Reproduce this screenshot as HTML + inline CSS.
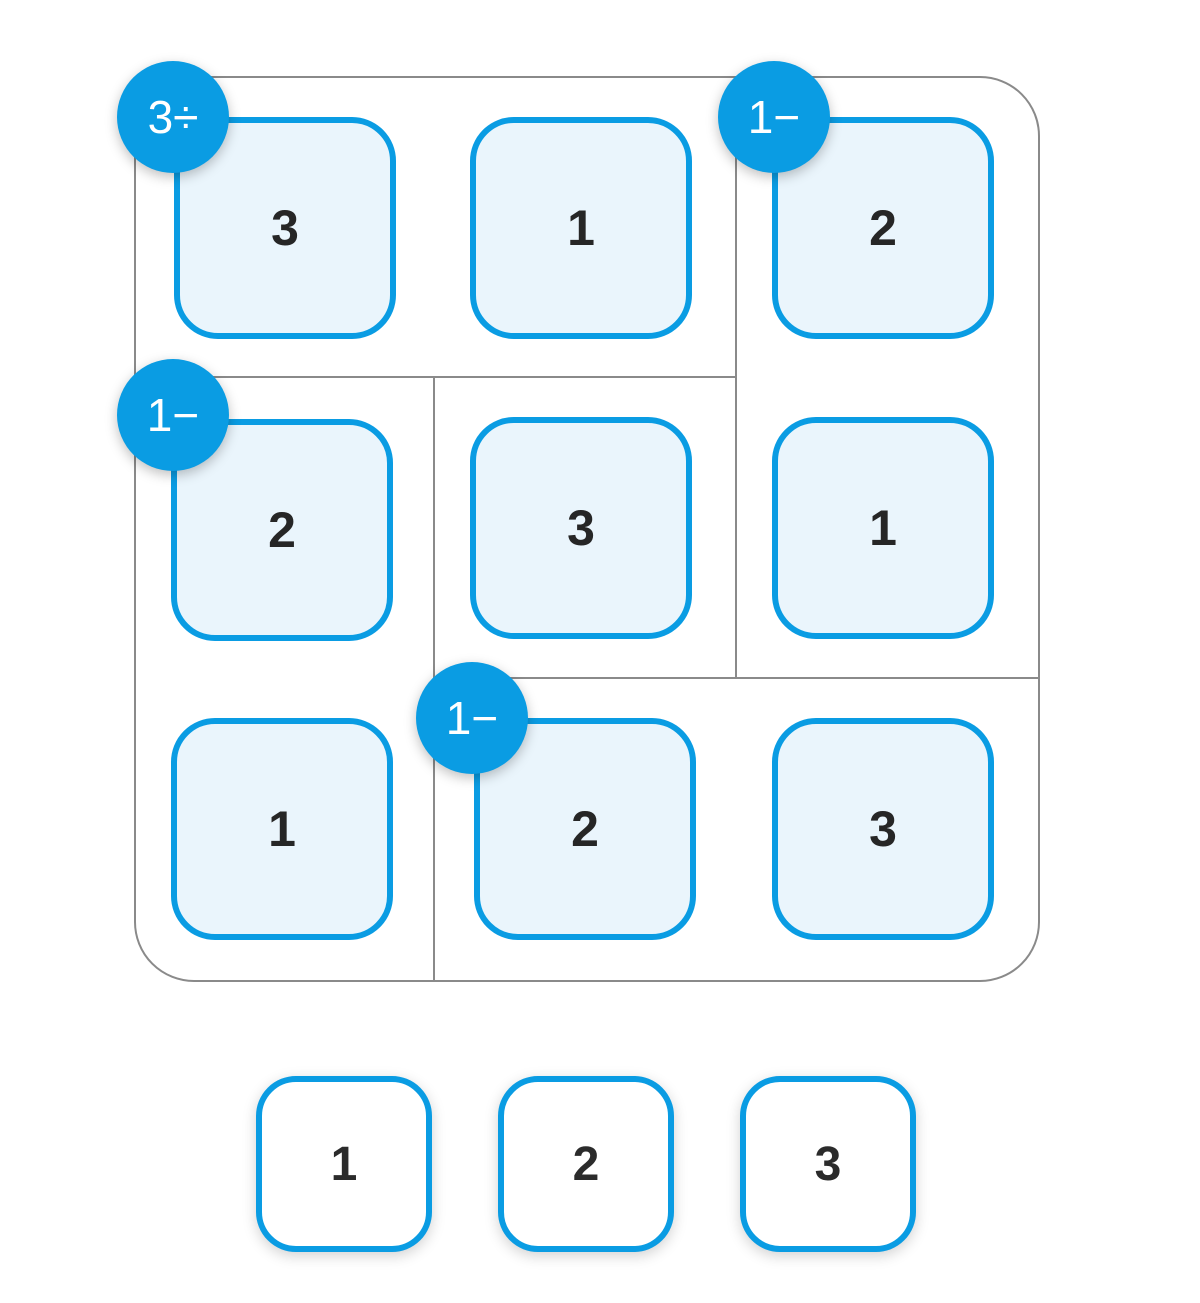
<!DOCTYPE html>
<html><head><meta charset="utf-8"><style>
html,body{margin:0;padding:0;width:1200px;height:1303px;background:#fff;overflow:hidden;font-family:"Liberation Sans",sans-serif;}
.abs{position:absolute;}
.board{left:134px;top:76px;width:902px;height:902px;border:2px solid #8a8a8a;border-radius:60px;box-sizing:content-box;}
.line{background:#8a8a8a;}
.tile{width:210px;height:210px;border:6px solid #0a9ce3;border-radius:44px;background:#eaf5fc;display:flex;align-items:center;justify-content:center;font-size:50px;font-weight:bold;color:#262626;}
.badge{width:112px;height:112px;border-radius:50%;background:#0a9ce3;color:#fff;display:flex;align-items:center;justify-content:center;font-size:46px;box-shadow:0 4px 12px rgba(0,0,0,0.25);}
.bank{width:164px;height:164px;border:6px solid #0a9ce3;border-radius:40px;background:#fff;display:flex;align-items:center;justify-content:center;font-size:48px;font-weight:bold;color:#2b2b2b;box-shadow:0 4px 14px rgba(0,0,0,0.18);}
</style></head><body>
<div class="abs board"></div>
<div class="abs line" style="left:134px;top:376px;width:602px;height:2px"></div>
<div class="abs line" style="left:735px;top:76px;width:2px;height:602px"></div>
<div class="abs line" style="left:433px;top:377px;width:2px;height:603px"></div>
<div class="abs line" style="left:434px;top:677px;width:604px;height:2px"></div>

<div class="abs tile" style="left:174px;top:117px">3</div>
<div class="abs tile" style="left:470px;top:117px">1</div>
<div class="abs tile" style="left:772px;top:117px">2</div>
<div class="abs tile" style="left:171px;top:419px">2</div>
<div class="abs tile" style="left:470px;top:417px">3</div>
<div class="abs tile" style="left:772px;top:417px">1</div>
<div class="abs tile" style="left:171px;top:718px">1</div>
<div class="abs tile" style="left:474px;top:718px">2</div>
<div class="abs tile" style="left:772px;top:718px">3</div>

<div class="abs badge" style="left:117px;top:61px">3÷</div>
<div class="abs badge" style="left:718px;top:61px">1−</div>
<div class="abs badge" style="left:117px;top:359px">1−</div>
<div class="abs badge" style="left:416px;top:662px">1−</div>

<div class="abs bank" style="left:256px;top:1076px">1</div>
<div class="abs bank" style="left:498px;top:1076px">2</div>
<div class="abs bank" style="left:740px;top:1076px">3</div>
</body></html>
